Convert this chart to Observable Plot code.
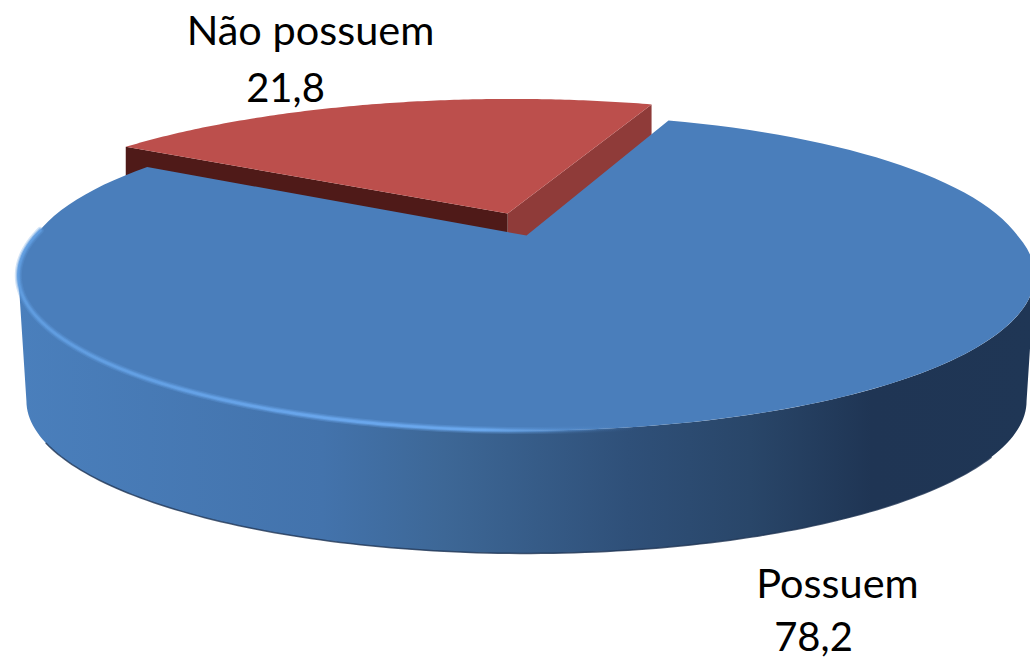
<!DOCTYPE html>
<html>
<head>
<meta charset="utf-8">
<script src="https://cdn.jsdelivr.net/npm/d3@7"></script>
<script src="https://cdn.jsdelivr.net/npm/@observablehq/plot@0.6"></script>
<style>html,body{margin:0;padding:0;background:#fff;overflow:hidden}svg{display:block}</style>
</head>
<body>
<div id="chart"></div>
<script>
const categories = ["Possuem", "Não possuem"];
const values = [78.2, 21.8];
const valueLabels = ["78,2", "21,8"];
const topColors = ["#4a7ebb", "#bc4f4c"];
const redWallLeft = "#4f1a18";
const redWallRight = "#8f3b39";
const sideStops = [[0, "#4a7fbc"], [0.3, "#4373ac"], [0.42, "#3d6796"], [0.6, "#2f5079"], [0.72, "#294669"], [0.84, "#1f3554"], [1, "#1f3655"]];
const labelCenters = [[837, 597, 813, 650], [310, 44, 285, 101]];

// Perspective view of a tilted disc
const view = {cx: 526, cy: 235, R: 491, S: 144.7, k: 0.258, depth: 126, shrink: 0.984, bulge: 0.07};
const rad = d => d * Math.PI / 180;
function project(u, v, drop = 0) {
  const w = 1 / (1 - view.k * v);
  const s = drop ? view.shrink : 1;
  return {x: view.cx + s * view.R * u * w, y: view.cy + drop + s * view.S * v * w};
}
const redStart = -148.5;
const redSweep = values[1] / d3.sum(values) * 360;
const blueStart = redStart + redSweep;
const blueSweep = values[0] / d3.sum(values) * 360;
const redApex = [-0.04, -0.158];
const redRadius = 1.09;

const arc = (from, to, o = [0, 0], r = 1, drop = 0, bulge = 0) =>
  d3.range(0, 121).map(i => {
    const a = rad(from + (to - from) * i / 120);
    const sn = Math.sin(a);
    const rr = r * (1 + (sn < 0 ? bulge * Math.pow(-sn, 1.2) : 0));
    return project(o[0] + rr * Math.cos(a), o[1] + rr * sn, drop);
  });

const blueTop = [project(0, 0), ...arc(blueStart, blueStart + blueSweep, [0, 0], 1, 0, view.bulge)];
const blueSide = [...arc(15, 165), ...arc(15, 165, [0, 0], 1, view.depth).reverse()];
const redRim = arc(redStart, blueStart, redApex, redRadius);
const redTop = [project(...redApex), ...redRim];
const apexTop = project(...redApex);
const D = 60;
const wallOf = (p, q) => [p, q, {x: q.x, y: q.y + D}, {x: p.x, y: p.y + D}];
const redWallL = wallOf(redRim[0], apexTop);
const redWallR = wallOf(apexTop, redRim[redRim.length - 1]);
const highlight = arc(60, 182);
const bottomEdge = arc(35, 150, [0, 0], 1, view.depth);

const gradientDefs = () => {
  const ns = "http://www.w3.org/2000/svg";
  const defs = document.createElementNS(ns, "defs");
  const make = (id, x1, x2, stops) => {
    const g = document.createElementNS(ns, "linearGradient");
    g.setAttribute("id", id);
    g.setAttribute("gradientUnits", "userSpaceOnUse");
    g.setAttribute("x1", x1); g.setAttribute("x2", x2);
    g.setAttribute("y1", 0); g.setAttribute("y2", 0);
    for (const [o, c, a] of stops) {
      const s = document.createElementNS(ns, "stop");
      s.setAttribute("offset", o); s.setAttribute("stop-color", c);
      if (a != null) s.setAttribute("stop-opacity", a);
      g.appendChild(s);
    }
    defs.appendChild(g);
  };
  make("sideGrad", 17, 1034, sideStops);
  make("hiGrad", 17, 640, [[0, "#5f9cdf", 0.9], [0.5, "#69a6ec", 1], [0.75, "#6aa8ee", 0.9], [1, "#4a7ebb", 0]]);
  return defs;
};

const line = (pts, o) => Plot.line(pts, {x: "x", y: "y", curve: "linear", ...o});

const plot = Plot.plot({
  width: 1030, height: 660,
  margin: 0,
  x: {domain: [0, 1030], range: [0, 1030], axis: null},
  y: {domain: [0, 660], range: [0, 660], axis: null},
  style: {background: "#fff", overflow: "hidden"},
  marks: [
    gradientDefs,
    line(redWallR, {fill: redWallRight, stroke: "none"}),
    line(redWallL, {fill: redWallLeft, stroke: "none"}),
    line(redTop, {fill: topColors[1], stroke: "none"}),
    line(blueSide, {fill: "url(#sideGrad)", stroke: "none"}),
    line(bottomEdge, {stroke: "#1f3554", strokeWidth: 1.5, strokeOpacity: 0.8}),
    line(blueTop, {fill: topColors[0], stroke: "none"}),
    line(highlight, {stroke: "url(#hiGrad)", strokeWidth: 7, strokeOpacity: 0.3}),
    line(highlight, {stroke: "url(#hiGrad)", strokeWidth: 4.5, strokeOpacity: 0.5}),
    line(highlight, {stroke: "url(#hiGrad)", strokeWidth: 2.5}),
    Plot.text(categories, {
      x: (d, i) => labelCenters[i][0], y: (d, i) => labelCenters[i][1],
      text: d => d, fontSize: 41.5, lineAnchor: "bottom", fill: "#000", fontFamily: "Lato"
    }),
    Plot.text(valueLabels, {
      x: (d, i) => labelCenters[i][2], y: (d, i) => labelCenters[i][3],
      text: d => d, fontSize: 40, lineAnchor: "bottom", fill: "#000", fontFamily: "Lato"
    })
  ]
});
document.getElementById("chart").appendChild(plot);
</script>
</body>
</html>
